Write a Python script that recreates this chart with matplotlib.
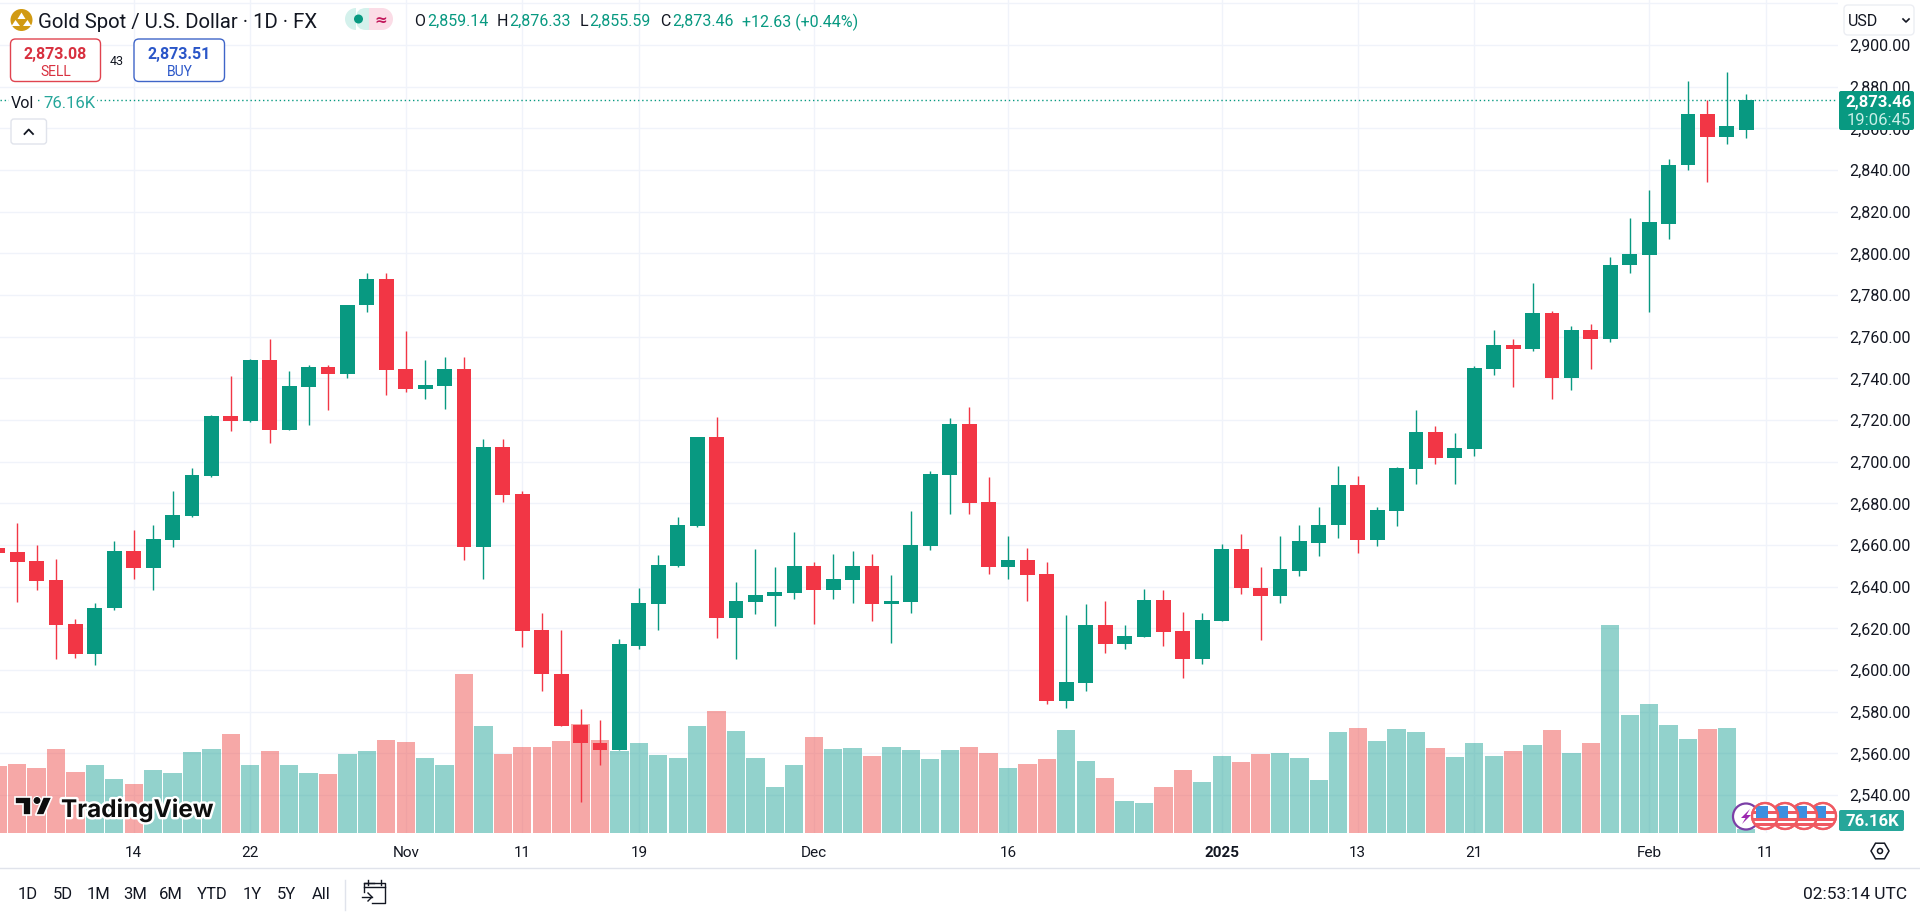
import matplotlib
matplotlib.use("Agg")
import matplotlib.pyplot as plt
import matplotlib.patheffects as pe
from matplotlib.patches import Circle, FancyBboxPatch, Polygon, Rectangle, RegularPolygon, Wedge
from matplotlib.lines import Line2D

FONT = "Roboto"
plt.rcParams["font.family"] = [FONT, "DejaVu Sans"]

opens = [2658.7,2656.5,2652.2,2643.0,2621.9,2607.7,2629.6,2657.0,2649.0,2662.4,2673.8,2693.0,2722.0,2719.6,2748.8,2715.4,
         2736.0,2745.5,2742.2,2775.0,2787.8,2744.4,2734.7,2736.5,2744.4,2659.0,2707.0,2684.4,2619.0,2598.3,2573.5,2565.2,
         2561.5,2611.7,2631.8,2650.0,2669.3,2712.0,2625.1,2632.8,2635.7,2637.1,2650.0,2638.6,2643.4,2650.0,2631.8,2632.8,
         2659.7,2693.8,2718.2,2680.8,2649.6,2653.0,2646.2,2585.3,2593.9,2621.8,2612.6,2616.0,2633.8,2618.9,2605.4,2623.7,
         2658.2,2639.4,2635.7,2647.7,2661.2,2669.4,2688.6,2662.3,2676.1,2696.3,2714.2,2701.7,2705.9,2744.4,2756.0,2754.2,
         2771.5,2740.2,2763.2,2759.0,2794.2,2799.3,2814.2,2842.2,2866.7,2855.7,2859.14]
highs = [2659.2,2670.5,2659.8,2653.5,2624.6,2632.0,2661.8,2667.0,2669.4,2685.9,2697.0,2722.2,2741.0,2749.4,2759.0,2743.3,
         2746.4,2746.4,2775.3,2790.6,2790.6,2762.8,2748.7,2750.1,2750.1,2710.7,2710.7,2685.9,2627.4,2619.0,2581.4,2576.2,
         2614.9,2639.4,2655.4,2673.6,2712.0,2721.6,2642.4,2658.2,2649.6,2666.4,2652.0,2655.8,2657.3,2655.8,2645.8,2676.5,
         2695.7,2721.1,2726.4,2692.8,2664.5,2658.7,2652.0,2626.6,2631.8,2633.3,2621.8,2639.0,2638.6,2628.0,2627.5,2660.6,
         2665.4,2649.4,2664.1,2669.6,2678.1,2697.8,2693.2,2678.1,2697.3,2724.7,2717.0,2713.7,2745.7,2763.2,2759.0,2785.9,
         2772.4,2765.2,2766.2,2798.2,2817.2,2830.4,2845.4,2882.6,2873.5,2887.0,2876.33]
lows = [2656.0,2632.6,2638.4,2605.3,2605.7,2602.4,2628.9,2643.6,2638.4,2659.0,2673.4,2692.5,2714.6,2719.0,2709.0,2715.4,
        2717.6,2724.7,2740.2,2771.7,2731.9,2733.6,2730.0,2725.3,2652.8,2643.6,2680.8,2610.8,2589.7,2573.0,2536.7,2554.5,
        2561.5,2610.2,2619.0,2649.3,2668.5,2615.5,2605.4,2627.0,2621.3,2634.2,2622.2,2634.2,2632.3,2623.7,2613.1,2627.5,
        2657.8,2675.0,2675.0,2646.2,2643.8,2633.3,2583.8,2581.9,2590.1,2608.3,2610.2,2616.0,2611.7,2596.3,2603.0,2623.7,
        2636.6,2614.2,2632.2,2645.0,2654.9,2663.2,2656.4,2659.5,2668.9,2689.5,2698.9,2689.2,2702.6,2741.6,2735.8,2753.1,
        2730.0,2734.5,2744.6,2757.5,2790.7,2771.9,2807.1,2840.0,2834.0,2852.4,2855.59]
closes = [2656.3,2651.9,2642.7,2621.5,2607.7,2630.0,2657.0,2649.0,2662.7,2674.3,2693.5,2722.0,2719.6,2748.8,2715.4,2736.3,
          2745.5,2742.2,2775.3,2787.8,2744.0,2734.7,2736.9,2744.4,2659.0,2707.0,2684.0,2618.8,2598.0,2573.0,2564.8,2561.5,
          2612.3,2632.3,2650.6,2669.8,2712.0,2625.1,2633.3,2636.2,2637.6,2650.0,2638.6,2643.8,2650.0,2631.8,2633.3,2660.2,
          2694.2,2718.2,2680.3,2649.6,2653.0,2645.8,2585.3,2594.4,2621.8,2612.6,2616.5,2633.8,2618.4,2605.4,2624.2,2658.2,
          2639.5,2635.7,2648.3,2661.7,2669.8,2688.6,2662.3,2676.6,2696.9,2714.2,2701.7,2706.5,2745.0,2756.0,2754.2,2771.5,
          2740.2,2763.2,2759.0,2794.5,2799.9,2814.8,2842.6,2866.7,2855.7,2861.0,2873.46]
# Volume in thousands
volumes_k = [1340,1380,1294,1690,1218,1354,1080,972,1256,1194,1616,1676,1974,1354,1638,1354,1194,1178,1576,1638,1852,1814,1492,1354,
             3176,2136,1576,1714,1714,1836,2174,1852,1638,1794,1554,1494,2134,2434,2034,1494,914,1354,1914,1674,1694,1534,1714,1654,
             1474,1654,1714,1594,1294,1374,1474,2054,1434,1094,634,594,914,1254,1014,1534,1414,1574,1594,1494,1054,2014,2094,1834,
             2074,2014,1694,1514,1794,1534,1634,1754,2054,1594,1794,4154,2354,2574,2154,1874,2074,2094,76.16]
volume_down = [1,1,1,1,1,0,0,1,0,0,0,0,1,0,1,0,0,1,0,0,1,1,0,0,1,0,1,1,1,1,1,1,0,0,0,0,0,1,0,0,0,0,1,0,0,1,0,0,0,0,1,1,0,1,1,0,0,1,0,0,1,1,0,0,
               1,1,0,0,0,0,1,0,0,0,1,0,0,0,1,0,1,0,1,0,0,0,0,0,1,0,0]

price_ticks = list(range(2540, 2921, 20))
date_positions = [7, 13, 21, 27, 33, 42, 52, 63, 70, 76, 85, 91]
date_labels = ["14", "22", "Nov", "11", "19", "Dec", "16", "2025", "13", "21", "Feb", "11"]
ranges = ["1D", "5D", "1M", "3M", "6M", "YTD", "1Y", "5Y", "All"]
last_price = closes[-1]

GREEN, RED = "#089981", "#f23645"
INK = "#131722"
W, H = 1920, 913
CHART_W, CHART_B = 1838, 833
xlim = (0.118, 94.72)
ylim = (2521.76, 2921.6)

fig = plt.figure(figsize=(19.2, 9.13), dpi=100, facecolor="white")
rect = [0, 1 - CHART_B / H, CHART_W / W, CHART_B / H]

base = fig.add_axes(rect, zorder=1)
base.set_xlim(xlim); base.set_ylim(ylim)
base.set_yticks(price_ticks)
# The 2,920 gridline sits above the USD selector, so only its line shows
base.set_yticklabels([f"{p:,.2f}" if p < 2920 else "" for p in price_ticks], fontsize=11.5, color=INK)
base.set_xticks(date_positions)
base.set_xticklabels(date_labels, fontsize=11, color=INK)
for lab, txt in zip(base.get_xticklabels(), date_labels):
    if txt == "2025":
        lab.set_fontweight("bold")
base.yaxis.tick_right()
base.tick_params(axis="both", length=0)
base.tick_params(axis="y", pad=8)
base.tick_params(axis="x", pad=9.5)
base.grid(True, color="#f0f3fa", lw=1)
base.set_axisbelow(True)
for s in base.spines.values():
    s.set_visible(False)

xs = list(range(len(opens)))

vol = fig.add_axes(rect, zorder=2)
vol.patch.set_visible(False)
vol.set_xlim(xlim); vol.set_ylim(0, CHART_B * 20)
vol.axis("off")
vol.bar(xs, volumes_k, width=0.945, color=["#ef5350" if d else "#26a69a" for d in volume_down], alpha=0.5, lw=0)

price = fig.add_axes(rect, zorder=3)
price.patch.set_visible(False)
price.set_xlim(xlim); price.set_ylim(ylim)
price.axis("off")
colors = [GREEN if c >= o else RED for o, c in zip(opens, closes)]
price.vlines(xs, lows, highs, colors=colors, lw=1.0)
price.bar(xs, [abs(c - o) for o, c in zip(opens, closes)], bottom=[min(o, c) for o, c in zip(opens, closes)],
          width=0.77, color=colors, lw=0)
price.axhline(last_price, color=GREEN, lw=1.0, ls=(0, (1, 2)))

# Interface chrome in pixel coordinates
ui = fig.add_axes([0, 0, 1, 1], zorder=4)
ui.patch.set_visible(False)
ui.set_xlim(0, W); ui.set_ylim(H, 0)
ui.axis("off")

def T(x, y, s, size=11, color=INK, ha="left", weight="normal", **kw):
    return ui.text(x, y, s, fontsize=size, color=color, ha=ha, va="center_baseline", fontweight=weight, **kw)

def box(x0, y0, x1, y1, r, fc, ec, lw=1.0):
    p = FancyBboxPatch((x0 + r, y0 + r), x1 - x0 - 2 * r, y1 - y0 - 2 * r, boxstyle=f"round,pad={r},rounding_size={r}",
                       fc=fc, ec=ec, lw=lw)
    ui.add_patch(p)
    return p

# Header: symbol icon, title and market state pill
ui.add_patch(Circle((21.5, 20), 11, fc="#d19a12", ec="none"))
for tri in ([(21.5, 12.5), (17.5, 19), (25.5, 19)], [(15.5, 20), (11.5, 26), (20, 26)], [(27.5, 20), (23, 26), (31.5, 26)]):
    ui.add_patch(Polygon(tri, fc="white", ec="none"))
T(38.5, 20, "Gold Spot / U.S. Dollar · 1D · FX", 14.7)

ui.add_patch(FancyBboxPatch((356, 8), 26, 22, boxstyle="round,pad=0,rounding_size=10", fc="#d4f1ec", ec="none"))
ui.add_patch(Wedge((356, 19), 11, 90, 270, fc="#d4f1ec", ec="none"))
ui.add_patch(Rectangle((369, 8), 13, 22, fc="#fbdce6", ec="none"))
ui.add_patch(Wedge((382, 19), 11, -90, 90, fc="#fbdce6", ec="none"))
ui.add_patch(Circle((358.5, 19), 4.5, fc=GREEN, ec="none"))
T(381, 19, "≈", 11, "#c2185b", ha="center", weight="bold", family="DejaVu Sans")

for x, s in ((414.5, "O"), (497, "H"), (580, "L"), (660, "C")):
    T(x, 20, s, 11.5)
for x, s in ((427, "2,859.14"), (509.5, "2,876.33"), (589.5, "2,855.59"), (672, "2,873.46"), (741.5, "+12.63 (+0.44%)")):
    T(x, 20, s, 11.5, GREEN)

# Sell / buy boxes
box(10.5, 39, 100.5, 81.5, 5, "white", "#e0434f", 1.0)
T(55.5, 53, "2,873.08", 11.5, "#d8303f", ha="center", weight="bold")
T(55.5, 70, "SELL", 10, "#d8303f", ha="center")
T(117, 60, "43", 9, INK, ha="center")
box(134, 39, 224.5, 81.5, 5, "white", "#3f65c8", 1.0)
T(179.5, 53, "2,873.51", 11.5, "#2a56c8", ha="center", weight="bold")
T(179.5, 70, "BUY", 10, "#2a56c8", ha="center")

# Volume legend and collapse button
bb = dict(fc="white", ec="none", pad=1.5)
T(11, 102, "Vol", 11.5, bbox=bb)
T(43, 102, "76.16K", 12, "#26a69a", bbox=bb)
box(11, 119, 46.5, 144, 3, "white", "#e0e3eb", 1.0)
ui.add_artist(Line2D([24.5, 28.7, 33], [134, 129.5, 134], color=INK, lw=1.3))

# Right price scale overlays
box(1844, 5, 1914, 35, 4, "white", "#eceef3", 1.0)
T(1848, 20, "USD", 11.5)
ui.add_artist(Line2D([1903, 1906, 1909], [19, 22, 19], color=INK, lw=1.2))
ui.add_patch(FancyBboxPatch((1839, 91), 75, 39, boxstyle="round,pad=0,rounding_size=2", fc=GREEN, ec="none"))
T(1879, 101, "2,873.46", 12, "white", ha="center", weight="bold")
T(1879, 119, "19:06:45", 12, "#c8efe7", ha="center")
ui.add_patch(FancyBboxPatch((1839, 810), 65, 21, boxstyle="round,pad=0,rounding_size=2", fc="#26a69a", ec="none"))
T(1872, 820.5, "76.16K", 12, "white", ha="center", weight="bold")

# Event badges near the last bar
ui.add_patch(Circle((1746, 816.5), 13, fc="white", ec="#7b3fa6", lw=1.6, zorder=5))
ui.add_patch(Polygon([(1750, 809), (1741, 818), (1745.5, 818), (1742, 824), (1751, 815), (1746.5, 815)], fc="#9c27b0", ec="none", zorder=5))
for k, cx in enumerate((1823, 1804, 1785, 1765)):
    z = 6 + k
    c = Circle((cx, 816), 13, fc="white", ec="#ef5a62", lw=1.6, zorder=z)
    ui.add_patch(c)
    for yy in (811, 818, 823.5):
        s = Rectangle((cx - 13, yy), 26, 2.8, fc="#ef5a62", ec="none", zorder=z)
        ui.add_patch(s); s.set_clip_path(c)
    s = Rectangle((cx - 9, 806), 12, 12, fc="#3d8fe0", ec="none", zorder=z)
    ui.add_patch(s); s.set_clip_path(c)
    ui.add_patch(Circle((cx, 816), 13, fc="none", ec="#ef5a62", lw=1.6, zorder=z))

# Settings hexagon
ui.add_patch(RegularPolygon((1880, 851), 6, radius=9, orientation=3.14159 / 6, fc="none", ec=INK, lw=1.1))
ui.add_patch(Circle((1880, 851), 2.5, fc="none", ec=INK, lw=1.1))

# TradingView watermark
halo = [pe.withStroke(linewidth=3.5, foreground="white")]
T(61, 807, "TradingView", 17.5, "#0d0d0d", weight="bold", family="Inter", path_effects=halo)
for shape in (Polygon([(14.5, 797), (31, 797), (31, 815), (22.5, 815), (22.5, 804), (14.5, 804)], fc="#0d0d0d", ec="white", lw=1.2),
              Polygon([(43, 797), (52, 797), (44, 815), (35.5, 815)], fc="#0d0d0d", ec="white", lw=1.2),
              Circle((37, 800.5), 4, fc="#0d0d0d", ec="white", lw=0.8)):
    ui.add_patch(shape)

# Bottom toolbar
ui.add_artist(Line2D([0, W], [868, 868], color="#e0e3eb", lw=1))
for cx, s in zip((27.8, 62.4, 98.8, 135, 171, 212.7, 252, 286.5, 321.6), ranges):
    T(cx, 893, s, 12, ha="center")
ui.add_artist(Line2D([345.3, 345.3], [880, 910], color="#e0e3eb", lw=1))
ui.add_artist(Line2D([374, 364, 364], [883.5, 883.5, 892], color=INK, lw=1.0))
ui.add_artist(Line2D([364, 385, 385, 385, 372], [883.5, 883.5, 903, 903, 903], color=INK, lw=1.0))
ui.add_artist(Line2D([364, 385], [887, 887], color=INK, lw=1.0))
for x in (368, 381):
    ui.add_artist(Line2D([x, x], [880, 885], color=INK, lw=1.0))
ui.add_artist(Line2D([362, 372], [897, 897], color=INK, lw=1.0))
ui.add_artist(Line2D([368, 372, 368], [893, 897, 901], color=INK, lw=1.0))
T(1907, 893, "02:53:14 UTC", 12.5, ha="right")

fig.savefig("out.png", dpi=100, facecolor="white")
